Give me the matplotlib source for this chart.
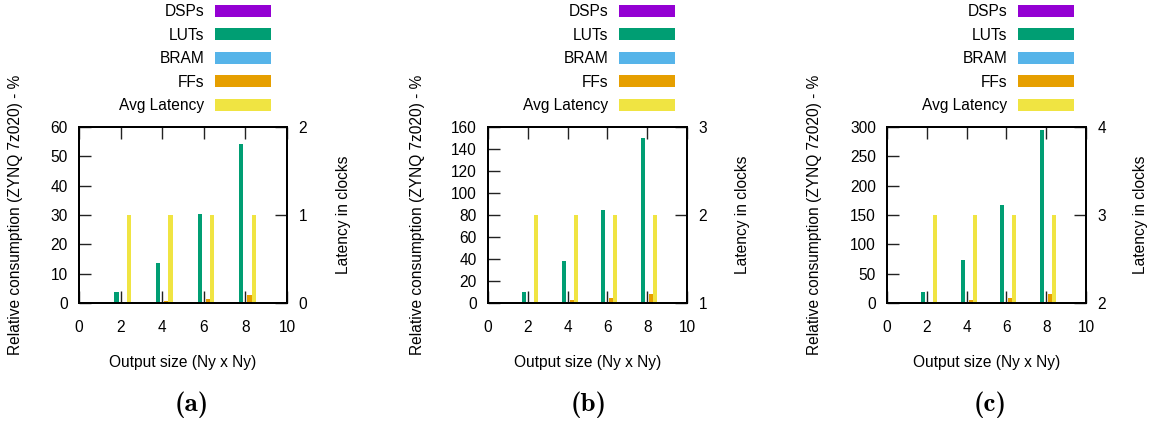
import numpy as np
import matplotlib
matplotlib.use("Agg")
from matplotlib import pyplot as plt
from matplotlib.patches import Patch

plt.rcParams['font.family'] = ['Liberation Sans', 'DejaVu Sans']
plt.rcParams['font.size'] = 11.2

# data
sizes = np.array([2, 4, 6, 8])
series = ["DSPs", "LUTs", "BRAM", "FFs", "Avg Latency"]
colors = ["#9400D3", "#009E73", "#56B4E9", "#E69F00", "#F0E442"]

dsps_a = [0, 0, 0, 0]
luts_a = [3.6, 13.7, 30.5, 54.2]
bram_a = [0, 0, 0, 0]
ffs_a = [0.3, 0.8, 1.5, 2.8]
lat_a = [1, 1, 1, 1]

dsps_b = [0, 0, 0, 0]
luts_b = [9.8, 38.1, 84.8, 150.3]
bram_b = [0, 0, 0, 0]
ffs_b = [0.6, 2.6, 4.6, 8.2]
lat_b = [2, 2, 2, 2]

dsps_c = [0, 0, 0, 0]
luts_c = [18.9, 74.0, 166.4, 295.5]
bram_c = [0, 0, 0, 0]
ffs_c = [1.2, 5.2, 8.6, 15.5]
lat_c = [3, 3, 3, 3]

left_max = [60, 160, 300]
left_step = [10, 20, 50]
right_lim = [(0, 2), (1, 3), (2, 4)]
captions = ["(a)", "(b)", "(c)"]

panels = [
    (dsps_a, luts_a, bram_a, ffs_a, lat_a),
    (dsps_b, luts_b, bram_b, ffs_b, lat_b),
    (dsps_c, luts_c, bram_c, ffs_c, lat_c),
]

W, H = 1156, 428
fig = plt.figure(figsize=(W / 100, H / 100), dpi=100)

# frame boxes in pixels: left, right
frames = [(79, 287), (488, 687), (887, 1086)]
top_px, bot_px = 127, 303
ylab_px = [16, 418, 814]
y2lab_px = [343, 743, 1140]
leg_px = [271, 675, 1074]
cap_px = [192, 589, 990]

offsets = [-0.4, -0.2, 0.0, 0.2, 0.4]
width = 0.2

for i, (dsps, luts, bram, ffs, lat) in enumerate(panels):
    l, r = frames[i]
    ax = fig.add_axes([l / W, 1 - bot_px / H, (r - l) / W, (bot_px - top_px) / H])
    ax2 = ax.twinx()

    vals = [dsps, luts, bram, ffs]
    for k in range(4):
        ax.bar(sizes + offsets[k], vals[k], width=width, color=colors[k], linewidth=0)
    lo, hi = right_lim[i]
    ax2.bar(sizes + offsets[4], np.array(lat) - lo, bottom=lo, width=width,
            color=colors[4], linewidth=0)

    ax.set_xlim(0, 10)
    ax.set_xticks(np.arange(0, 11, 2))
    ax.set_ylim(0, left_max[i])
    ax.set_yticks(np.arange(0, left_max[i] + 1, left_step[i]))
    ax2.set_ylim(lo, hi)
    ax2.set_yticks(np.arange(lo, hi + 1, 1))

    ax.tick_params(axis='x', direction='in', top=True, bottom=True, length=8.4,
                   width=1.0, pad=12.5, color='#222222')
    ax.tick_params(axis='y', direction='in', left=True, right=False, length=8.4,
                   width=1.0, pad=8, color='#222222')
    ax2.tick_params(axis='y', direction='in', right=True, length=8.4,
                    width=1.0, pad=8.4, color='#222222')
    for a in (ax, ax2):
        for s in a.spines.values():
            s.set_linewidth(1.4)

    ax.set_xlabel("Output size (Ny x Ny)", va='center')
    ax.xaxis.set_label_coords(0.5, (bot_px - 362) / (bot_px - top_px))
    ax.set_ylabel("Relative consumption (ZYNQ 7z020) - %", va='center')
    ax.yaxis.set_label_coords((ylab_px[i] - l) / (r - l), 0.5)
    ax2.set_ylabel("Latency in clocks", va='center')
    ax2.yaxis.set_label_coords((y2lab_px[i] - l) / (r - l), 0.5)

    handles = [Patch(facecolor=c, edgecolor='none') for c in colors]
    ax2.legend(handles, series, loc='upper right', markerfirst=False, frameon=False,
               bbox_to_anchor=(leg_px[i] / W, 1 - 4 / H), bbox_transform=fig.transFigure,
               borderpad=0, borderaxespad=0, handlelength=3.6, handleheight=0.8,
               handletextpad=0.7, labelspacing=0.55)

    fig.text(cap_px[i] / W, 1 - 405 / H, captions[i], family='cmb10',
             ha='center', va='center', fontsize=19.5)

fig.savefig("out.png", dpi=100)
